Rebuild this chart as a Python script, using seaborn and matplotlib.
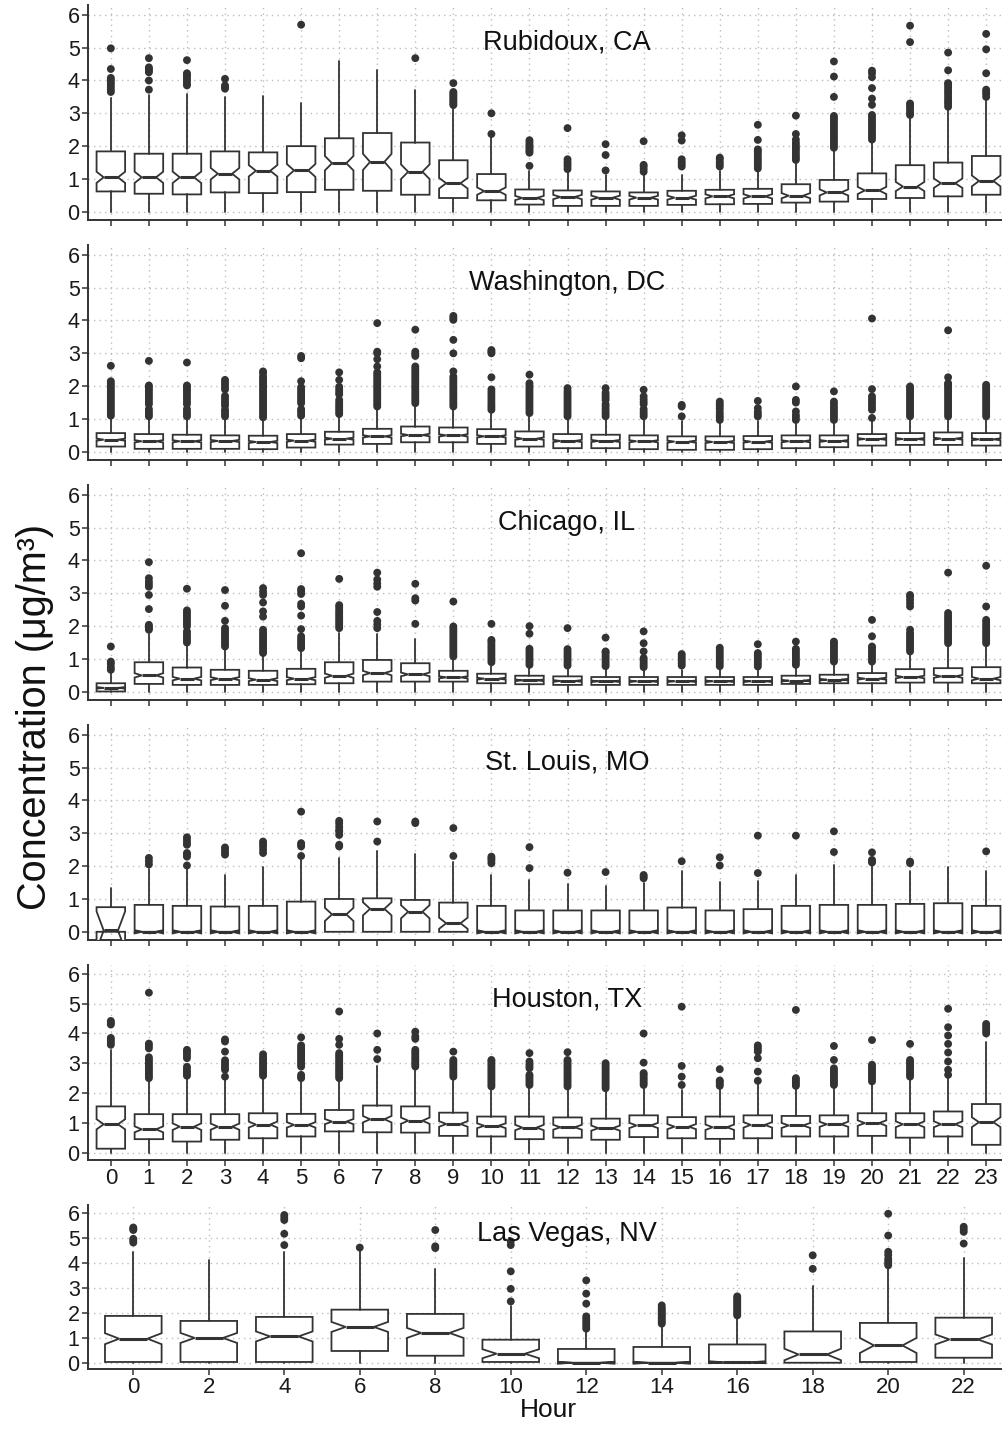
import matplotlib
matplotlib.use("Agg")
import matplotlib.pyplot as plt
import matplotlib.transforms as mtransforms
import numpy as np
import pandas as pd
import seaborn as sns

# ---------------------------------------------------------------- data
HOURS = list(range(24))
LV_HOURS = list(range(0, 24, 2))
CITIES = ["Rubidoux, CA", "Washington, DC", "Chicago, IL",
          "St. Louis, MO", "Houston, TX", "Las Vegas, NV"]
LOWER_WHISKER = 0.0

# Rubidoux, CA
rub_med = [1.05, 1.05, 1.05, 1.16, 1.25, 1.26, 1.48, 1.52, 1.22, 0.87, 0.63, 0.42,
           0.45, 0.43, 0.43, 0.43, 0.47, 0.47, 0.49, 0.59, 0.65, 0.77, 0.87, 0.94]
rub_q1 = [0.62, 0.55, 0.53, 0.59, 0.57, 0.60, 0.67, 0.64, 0.52, 0.42, 0.35, 0.22,
          0.18, 0.18, 0.18, 0.21, 0.23, 0.24, 0.28, 0.31, 0.39, 0.42, 0.47, 0.52]
rub_q3 = [1.84, 1.77, 1.77, 1.84, 1.81, 2.00, 2.24, 2.40, 2.11, 1.57, 1.15, 0.68,
          0.65, 0.62, 0.59, 0.64, 0.67, 0.70, 0.84, 0.97, 1.17, 1.42, 1.50, 1.70]
rub_hi = [3.46, 3.55, 3.60, 3.50, 3.53, 3.30, 4.60, 4.33, 3.70, 3.20, 2.30, 1.25,
          1.25, 1.13, 1.18, 1.13, 1.23, 1.28, 1.53, 1.90, 2.15, 2.90, 3.15, 3.40]
rub_out = [
    [3.65, 3.72, 3.8, 3.88, 3.95, 4.02, 4.08, 4.35, 4.98],
    [3.72, 4.0, 4.25, 4.3, 4.35, 4.4, 4.68],
    [3.85, 3.9, 3.98, 4.05, 4.12, 4.18, 4.22, 4.62],
    [3.75, 3.8, 3.85, 4.05],
    [],
    [5.7],
    [],
    [],
    [4.68],
    [3.25, 3.3, 3.35, 3.4, 3.45, 3.5, 3.55, 3.6, 3.65, 3.92],
    [2.37, 3.0],
    [1.4, 1.8, 1.85, 1.9, 1.95, 2.0, 2.05, 2.12, 2.18],
    [1.3, 1.38, 1.45, 1.52, 1.6, 2.55],
    [1.26, 1.73, 2.06],
    [1.22, 1.3, 1.38, 1.43, 2.15],
    [1.38, 1.45, 1.52, 1.6, 2.17, 2.33],
    [1.38, 1.45, 1.52, 1.6, 1.65],
    [1.32, 1.4, 1.48, 1.55, 1.62, 1.7, 1.78, 1.85, 1.9, 2.19, 2.65],
    [1.58, 1.65, 1.72, 1.8, 1.88, 1.95, 2.02, 2.1, 2.2, 2.37, 2.93],
    [1.95, 2.02, 2.1, 2.18, 2.25, 2.32, 2.4, 2.48, 2.55, 2.62, 2.7, 2.78, 2.85, 2.92,
     3.5, 4.12, 4.58],
    [2.2, 2.28, 2.35, 2.42, 2.5, 2.58, 2.65, 2.72, 2.8, 2.88, 2.95, 3.26, 3.45, 3.77,
     4.1, 4.22, 4.3],
    [2.95, 3.02, 3.1, 3.18, 3.25, 3.3, 5.17, 5.67],
    [3.2, 3.28, 3.35, 3.42, 3.5, 3.58, 3.65, 3.72, 3.8, 3.88, 3.92, 4.31, 4.85],
    [3.5, 3.58, 3.65, 3.72, 4.22, 4.95, 5.42],
]
rub_notch = 0.14

# Washington, DC
was_med = [0.37, 0.32, 0.32, 0.33, 0.30, 0.34, 0.40, 0.47, 0.51, 0.50, 0.47, 0.40,
           0.33, 0.33, 0.32, 0.31, 0.30, 0.31, 0.32, 0.33, 0.39, 0.39, 0.40, 0.38]
was_q1 = [0.16, 0.09, 0.09, 0.09, 0.08, 0.13, 0.22, 0.24, 0.29, 0.29, 0.24, 0.16,
          0.11, 0.11, 0.08, 0.06, 0.06, 0.08, 0.11, 0.14, 0.19, 0.21, 0.21, 0.19]
was_q3 = [0.57, 0.54, 0.52, 0.50, 0.49, 0.54, 0.61, 0.70, 0.77, 0.74, 0.69, 0.62,
          0.54, 0.52, 0.50, 0.47, 0.47, 0.48, 0.50, 0.50, 0.54, 0.57, 0.59, 0.57]
was_hi = [1.05, 1.00, 1.00, 1.00, 1.00, 1.05, 1.10, 1.30, 1.40, 1.35, 1.25, 1.15,
          1.05, 1.00, 1.00, 0.95, 0.95, 0.95, 1.00, 1.00, 1.00, 1.00, 1.05, 1.00]
was_out = [
    [1.1, 1.17, 1.24, 1.31, 1.38, 1.45, 1.52, 1.59, 1.66, 1.73, 1.8, 1.87, 1.94, 2.01,
     2.08, 2.15, 2.62],
    [1.08, 1.15, 1.22, 1.3, 1.45, 1.52, 1.6, 1.68, 1.75, 1.83, 1.9, 1.97, 2.02, 2.77],
    [1.08, 1.15, 1.22, 1.3, 1.45, 1.52, 1.6, 1.68, 1.75, 1.83, 1.9, 1.97, 2.02, 2.72],
    [1.08, 1.15, 1.22, 1.28, 1.4, 1.47, 1.54, 1.62, 1.7, 1.9, 1.97, 2.05, 2.12, 2.19],
    [1.05, 1.12, 1.19, 1.26, 1.33, 1.4, 1.47, 1.54, 1.61, 1.68, 1.75, 1.82, 1.89,
     1.96, 2.03, 2.1, 2.17, 2.24, 2.3, 2.4, 2.45],
    [1.1, 1.17, 1.24, 1.3, 1.48, 1.55, 1.62, 1.69, 1.76, 1.83, 1.9, 1.97, 2.15, 2.85,
     2.92],
    [1.15, 1.22, 1.29, 1.36, 1.43, 1.5, 1.58, 1.75, 1.82, 1.9, 1.98, 2.19, 2.42],
    [1.38, 1.45, 1.52, 1.59, 1.66, 1.73, 1.8, 1.87, 1.94, 2.01, 2.08, 2.15, 2.22,
     2.29, 2.36, 2.42, 2.6, 2.82, 3.0, 3.05, 3.92],
    [1.48, 1.55, 1.62, 1.69, 1.76, 1.83, 1.9, 1.97, 2.04, 2.11, 2.18, 2.25, 2.32,
     2.39, 2.46, 2.53, 2.6, 2.92, 2.98, 3.05, 3.72],
    [1.38, 1.45, 1.52, 1.59, 1.66, 1.73, 1.8, 1.87, 1.94, 2.01, 2.08, 2.15, 2.22,
     2.29, 2.45, 3.0, 3.41, 4.02, 4.08, 4.14],
    [1.28, 1.35, 1.42, 1.5, 1.58, 1.66, 1.74, 1.82, 1.9, 2.27, 3.0, 3.05, 3.1],
    [1.18, 1.25, 1.32, 1.39, 1.46, 1.53, 1.6, 1.67, 1.74, 1.81, 1.88, 1.95, 2.02,
     2.09, 2.35],
    [1.08, 1.15, 1.22, 1.29, 1.36, 1.43, 1.5, 1.57, 1.64, 1.71, 1.78, 1.85, 1.94],
    [1.08, 1.15, 1.22, 1.3, 1.38, 1.45, 1.58, 1.65, 1.72, 1.8, 1.94],
    [1.08, 1.15, 1.22, 1.3, 1.45, 1.52, 1.6, 1.69, 1.89],
    [1.08, 1.38, 1.43],
    [0.97, 1.05, 1.12, 1.2, 1.3, 1.38, 1.45, 1.53],
    [1.08, 1.15, 1.22, 1.33, 1.55],
    [0.97, 1.05, 1.12, 1.23, 1.5, 1.58, 1.99],
    [0.97, 1.05, 1.12, 1.2, 1.28, 1.36, 1.45, 1.53, 1.84],
    [1.03, 1.28, 1.36, 1.45, 1.53, 1.61, 1.69, 1.91, 4.06],
    [1.08, 1.15, 1.22, 1.29, 1.36, 1.43, 1.5, 1.57, 1.64, 1.71, 1.78, 1.85, 1.92,
     1.99],
    [1.08, 1.15, 1.22, 1.29, 1.36, 1.43, 1.5, 1.57, 1.64, 1.71, 1.78, 1.85, 1.92,
     1.99, 2.05, 2.09, 2.27, 3.7],
    [1.08, 1.15, 1.22, 1.29, 1.36, 1.43, 1.5, 1.57, 1.64, 1.71, 1.78, 1.85, 1.92,
     1.98, 2.04],
]
was_notch = 0.08

# Chicago, IL
chi_med = [0.12, 0.50, 0.40, 0.40, 0.37, 0.40, 0.49, 0.57, 0.53, 0.44, 0.40, 0.35,
           0.33, 0.32, 0.32, 0.32, 0.32, 0.32, 0.34, 0.37, 0.40, 0.45, 0.47, 0.40]
chi_q1 = [0.01, 0.24, 0.21, 0.21, 0.21, 0.23, 0.26, 0.31, 0.31, 0.31, 0.26, 0.23,
          0.21, 0.21, 0.21, 0.21, 0.21, 0.21, 0.24, 0.26, 0.26, 0.28, 0.28, 0.26]
chi_q3 = [0.26, 0.90, 0.74, 0.67, 0.64, 0.70, 0.90, 0.97, 0.87, 0.64, 0.55, 0.49,
          0.47, 0.45, 0.45, 0.45, 0.45, 0.45, 0.49, 0.52, 0.57, 0.69, 0.72, 0.75]
chi_hi = [0.60, 1.75, 1.45, 1.35, 1.20, 1.35, 1.80, 1.75, 1.62, 1.05, 0.88, 0.72,
          0.72, 0.70, 0.65, 0.65, 0.70, 0.70, 0.75, 0.85, 0.90, 1.20, 1.40, 1.45]
chi_out = [
    [0.67, 0.75, 0.85, 0.92, 1.38],
    [1.89, 1.94, 1.99, 2.04, 2.52, 2.95, 3.2, 3.28, 3.36, 3.46, 3.95],
    [1.5, 1.57, 1.64, 1.71, 1.78, 1.84, 1.99, 2.06, 2.13, 2.2, 2.27, 2.34, 2.41, 2.48,
     3.14],
    [1.38, 1.45, 1.52, 1.59, 1.66, 1.73, 1.8, 1.87, 1.94, 2.16, 2.62, 3.1],
    [1.18, 1.25, 1.32, 1.39, 1.46, 1.53, 1.6, 1.67, 1.74, 1.81, 1.89, 2.29, 2.45,
     2.72, 2.95, 3.05, 3.16],
    [1.33, 1.4, 1.47, 1.54, 1.61, 1.69, 1.91, 2.32, 2.6, 2.68, 2.98, 3.06, 3.13, 4.22],
    [1.94, 2.01, 2.08, 2.15, 2.22, 2.29, 2.36, 2.43, 2.5, 2.58, 2.64, 3.44],
    [1.94, 2.05, 2.16, 2.43, 3.2, 3.3, 3.42, 3.63],
    [2.07, 2.78, 2.85, 3.29],
    [1.08, 1.15, 1.22, 1.29, 1.36, 1.43, 1.5, 1.57, 1.64, 1.71, 1.78, 1.85, 1.92,
     1.99, 2.75],
    [0.9, 0.97, 1.04, 1.11, 1.18, 1.25, 1.32, 1.39, 1.46, 1.53, 1.58, 2.07],
    [0.82, 0.89, 0.96, 1.03, 1.1, 1.17, 1.24, 1.31, 1.77, 2.0],
    [0.8, 0.87, 0.94, 1.01, 1.08, 1.15, 1.22, 1.3, 1.94],
    [0.78, 0.85, 0.92, 0.99, 1.06, 1.13, 1.2, 1.23, 1.65],
    [0.75, 0.82, 0.89, 0.96, 1.03, 1.23, 1.48, 1.84],
    [0.8, 0.87, 0.94, 1.01, 1.08, 1.15],
    [0.78, 0.86, 0.94, 1.02, 1.1, 1.18, 1.26, 1.34],
    [0.77, 0.84, 0.91, 0.98, 1.05, 1.12, 1.18, 1.45],
    [0.82, 0.89, 0.96, 1.03, 1.1, 1.17, 1.24, 1.31, 1.53],
    [0.92, 0.99, 1.06, 1.13, 1.2, 1.27, 1.34, 1.41, 1.48, 1.53],
    [0.92, 0.99, 1.06, 1.13, 1.2, 1.27, 1.34, 1.38, 1.69, 2.19],
    [1.23, 1.3, 1.37, 1.44, 1.51, 1.58, 1.65, 1.72, 1.79, 1.89, 2.6, 2.7, 2.8, 2.9,
     2.95],
    [1.48, 1.55, 1.62, 1.69, 1.76, 1.83, 1.9, 1.97, 2.04, 2.11, 2.18, 2.25, 2.32,
     2.4, 3.63],
    [1.48, 1.55, 1.62, 1.69, 1.76, 1.83, 1.9, 1.97, 2.04, 2.12, 2.19, 2.6, 3.84],
]
chi_notch = 0.10

# St. Louis, MO
stl_med = [0.04, 0.0, 0.0, 0.0, 0.0, 0.0, 0.53, 0.70, 0.61, 0.26, 0.0, 0.0,
           0.0, 0.0, 0.0, 0.0, 0.0, 0.0, 0.0, 0.0, 0.0, 0.0, 0.0, 0.0]
stl_q1 = [0.0] * 24
stl_q3 = [0.75, 0.82, 0.79, 0.77, 0.79, 0.92, 1.00, 1.02, 0.97, 0.89, 0.79, 0.65,
          0.65, 0.65, 0.65, 0.74, 0.65, 0.69, 0.79, 0.82, 0.82, 0.85, 0.87, 0.79]
stl_hi = [1.33, 1.92, 1.98, 1.74, 1.97, 2.19, 2.24, 2.47, 2.37, 2.14, 1.72, 1.58,
          1.46, 1.41, 1.48, 1.84, 1.51, 1.55, 1.73, 2.04, 2.02, 1.84, 1.98, 1.85]
stl_out = [
    [],
    [2.05, 2.15, 2.25],
    [2.02, 2.29, 2.35, 2.4, 2.65, 2.72, 2.8, 2.88],
    [2.35, 2.42, 2.5, 2.57],
    [2.4, 2.5, 2.6, 2.68, 2.75],
    [2.31, 2.6, 2.65, 2.7, 3.66],
    [2.6, 2.65, 2.95, 3.05, 3.1, 3.2, 3.3, 3.38],
    [2.75, 3.36],
    [3.31, 3.36],
    [2.31, 3.16],
    [2.09, 2.17, 2.23, 2.29],
    [1.94, 2.58],
    [1.8],
    [1.82],
    [1.63, 1.68, 1.73],
    [2.15],
    [2.02, 2.27],
    [1.79, 2.93],
    [2.93],
    [2.43, 3.06],
    [2.11, 2.15, 2.19, 2.42],
    [2.09, 2.14],
    [],
    [2.45],
]
stl_notch = [0.58, 0.05, 0.05, 0.05, 0.05, 0.05, 0.20, 0.20, 0.20, 0.17, 0.05, 0.05,
             0.05, 0.05, 0.05, 0.05, 0.05, 0.05, 0.05, 0.05, 0.05, 0.05, 0.05, 0.05]

# Houston, TX
hou_med = [0.95, 0.78, 0.87, 0.87, 0.94, 0.93, 1.04, 1.12, 1.07, 0.96, 0.90, 0.84,
           0.85, 0.82, 0.91, 0.87, 0.85, 0.93, 0.91, 0.95, 0.99, 0.95, 0.95, 1.02]
hou_q1 = [0.13, 0.45, 0.37, 0.43, 0.48, 0.54, 0.71, 0.68, 0.67, 0.56, 0.54, 0.45,
          0.50, 0.43, 0.52, 0.48, 0.46, 0.48, 0.54, 0.54, 0.56, 0.50, 0.54, 0.26]
hou_q3 = [1.55, 1.29, 1.29, 1.29, 1.32, 1.30, 1.43, 1.58, 1.55, 1.34, 1.21, 1.21,
          1.18, 1.14, 1.25, 1.19, 1.21, 1.25, 1.23, 1.25, 1.32, 1.32, 1.38, 1.63]
hou_hi = [3.45, 2.50, 2.50, 2.50, 2.55, 2.45, 2.45, 2.90, 2.85, 2.45, 2.20, 2.25,
          2.20, 2.15, 2.25, 2.10, 2.20, 2.35, 2.20, 2.25, 2.35, 2.45, 2.50, 3.70]
hou_out = [
    [3.62, 3.7, 3.78, 3.85, 4.3, 4.36, 4.42],
    [2.5, 2.57, 2.64, 2.71, 2.78, 2.85, 2.92, 2.99, 3.06, 3.13, 3.2, 3.5, 3.58, 3.66,
     5.37],
    [2.58, 2.65, 2.72, 2.8, 2.88, 3.17, 3.25, 3.33, 3.4, 3.45],
    [2.55, 2.78, 2.86, 2.94, 3.02, 3.1, 3.39, 3.73, 3.8],
    [2.58, 2.65, 2.72, 2.79, 2.86, 2.93, 3.0, 3.07, 3.14, 3.21, 3.3],
    [2.5, 2.55, 2.61, 2.89, 2.96, 3.03, 3.1, 3.17, 3.24, 3.31, 3.38, 3.45, 3.52,
     3.6, 3.87],
    [2.5, 2.57, 2.64, 2.71, 2.78, 2.85, 2.92, 2.99, 3.06, 3.13, 3.2, 3.27, 3.34,
     3.62, 3.82, 4.74],
    [3.14, 3.45, 4.0],
    [2.89, 2.96, 3.03, 3.1, 3.17, 3.24, 3.31, 3.38, 3.45, 3.82, 3.9, 4.06],
    [2.55, 2.62, 2.69, 2.76, 2.83, 2.9, 2.97, 3.04, 3.11, 3.39],
    [2.22, 2.29, 2.36, 2.43, 2.5, 2.57, 2.64, 2.71, 2.78, 2.85, 2.92, 2.99, 3.06,
     3.11],
    [2.27, 2.34, 2.41, 2.48, 2.55, 2.61, 2.83, 2.9, 2.97, 3.06, 3.34],
    [2.22, 2.29, 2.36, 2.43, 2.5, 2.57, 2.64, 2.71, 2.78, 2.85, 2.92, 2.99, 3.06,
     3.11, 3.37],
    [2.16, 2.23, 2.3, 2.37, 2.44, 2.51, 2.58, 2.65, 2.72, 2.79, 2.86, 2.93, 3.0],
    [2.27, 2.34, 2.41, 2.48, 2.55, 2.62, 2.67, 3.02, 4.0],
    [2.27, 2.55, 2.91, 4.9],
    [2.24, 2.31, 2.38, 2.42, 2.8],
    [2.41, 2.72, 3.17, 3.39, 3.46, 3.53, 3.6],
    [2.24, 2.31, 2.38, 2.45, 2.5, 4.79],
    [2.27, 2.34, 2.41, 2.48, 2.55, 2.62, 2.69, 2.76, 2.83, 3.11, 3.58],
    [2.39, 2.46, 2.53, 2.6, 2.67, 2.74, 2.81, 2.88, 2.95, 3.78],
    [2.55, 2.62, 2.69, 2.76, 2.83, 2.9, 2.97, 3.04, 3.11, 3.65],
    [2.61, 2.78, 3.06, 3.36, 3.65, 3.93, 4.21, 4.83],
    [4.0, 4.08, 4.16, 4.24, 4.32],
]
hou_notch = 0.12

# Las Vegas, NV (even hours only)
lv_med = [0.96, 0.99, 1.05, 1.43, 1.19, 0.36, 0.00, 0.00, 0.02, 0.33, 0.69, 0.93]
lv_q1 = [0.03, 0.03, 0.03, 0.47, 0.28, 0.03, 0.00, 0.00, 0.00, 0.00, 0.03, 0.20]
lv_q3 = [1.87, 1.67, 1.83, 2.12, 1.95, 0.92, 0.55, 0.63, 0.73, 1.25, 1.59, 1.80]
lv_hi = [4.43, 4.10, 4.43, 4.55, 3.75, 2.25, 1.33, 1.50, 1.85, 3.05, 3.85, 4.19]
lv_out = [
    [4.8, 4.88, 4.95, 5.3, 5.35, 5.4],
    [],
    [4.7, 5.15, 5.7, 5.8, 5.9],
    [4.6],
    [4.58, 4.65, 5.3],
    [2.45, 2.95, 3.65, 4.7, 4.85],
    [1.36, 1.45, 1.55, 1.65, 1.75, 1.85, 2.36, 2.76, 3.29],
    [1.56, 1.63, 1.7, 1.77, 1.84, 1.91, 1.98, 2.05, 2.12, 2.19, 2.29],
    [1.89, 1.96, 2.03, 2.1, 2.17, 2.24, 2.31, 2.38, 2.45, 2.52, 2.59, 2.65],
    [3.75, 4.29],
    [3.89, 3.97, 4.05, 4.15, 4.3, 4.43, 5.08, 5.95],
    [4.76, 5.23, 5.33, 5.43],
]
lv_notch = [0.22, 0.20, 0.20, 0.20, 0.20, 0.18, 0.04, 0.04, 0.04, 0.23, 0.30, 0.20]

PANELS = [
    (rub_med, rub_q1, rub_q3, rub_hi, rub_out, rub_notch, HOURS),
    (was_med, was_q1, was_q3, was_hi, was_out, was_notch, HOURS),
    (chi_med, chi_q1, chi_q3, chi_hi, chi_out, chi_notch, HOURS),
    (stl_med, stl_q1, stl_q3, stl_hi, stl_out, stl_notch, HOURS),
    (hou_med, hou_q1, hou_q3, hou_hi, hou_out, hou_notch, HOURS),
    (lv_med, lv_q1, lv_q3, lv_hi, lv_out, lv_notch, LV_HOURS),
]

# ---------------------------------------------------------------- style
sns.set_theme(style="ticks")
plt.rcParams["font.family"] = ["Liberation Sans", "DejaVu Sans"]

W, H = 1002, 1431
fig = plt.figure(figsize=(W / 100, H / 100), dpi=100)

# panel pixel extents (top, bottom)
extents = [(5, 220), (245, 460), (485, 700), (725, 940), (965, 1160), (1205, 1369)]
LEFT_PX, RIGHT_PX = 88, 1009
INK = "#333333"

for i, (city, panel, (top, bot)) in enumerate(zip(CITIES, PANELS, extents)):
    med, q1, q3, hi, outl, notch, hours = panel
    ax = fig.add_axes([LEFT_PX / W, 1 - bot / H, (RIGHT_PX - LEFT_PX) / W, (bot - top) / H])
    stats = []
    for j in range(len(hours)):
        half = notch[j] if isinstance(notch, list) else notch * (q3[j] - q1[j])
        stats.append(dict(med=med[j], q1=q1[j], q3=q3[j], whislo=LOWER_WHISKER,
                          whishi=hi[j], cilo=med[j] - half, cihi=med[j] + half,
                          fliers=[]))
    pos = np.arange(len(hours))
    ax.bxp(stats, positions=pos, widths=0.75, shownotches=True, showfliers=False,
           showcaps=False, patch_artist=True,
           boxprops=dict(facecolor="white", edgecolor=INK, linewidth=1.3),
           medianprops=dict(color=INK, linewidth=2.2),
           whiskerprops=dict(color=INK, linewidth=1.3),
           zorder=3)
    # outliers
    df = pd.DataFrame({"pos": [p for p, vals in zip(pos, outl) for _ in vals],
                       "value": [v for vals in outl for v in vals]})
    sns.scatterplot(data=df, x="pos", y="value", ax=ax, s=32, color=INK,
                    edgecolor="none", linewidth=0, zorder=4, legend=False)

    ax.set_xlim(-0.6, len(hours) - 0.4)
    ax.set_ylim(-0.25, 6.3)
    ax.set_yticks(range(0, 7))
    ax.set_xticks(pos)
    if i >= 4:
        ax.set_xticklabels([str(h) for h in hours], fontsize=16, color="#1a1a1a")
    else:
        ax.set_xticklabels([])
    ax.tick_params(axis="y", labelsize=15.5, labelcolor="#1a1a1a")
    ax.tick_params(axis="both", direction="out", length=4, width=1.1, color=INK, pad=2)
    ax.grid(True, which="major", linestyle=(0, (1, 3)), color="#bdbdbd", linewidth=1.0)
    ax.set_axisbelow(True)
    sns.despine(ax=ax)
    for side in ("left", "bottom"):
        ax.spines[side].set_color(INK)
        ax.spines[side].set_linewidth(1.4)
    ax.set_xlabel("")
    ax.set_ylabel("")
    trans = mtransforms.blended_transform_factory(ax.transAxes, ax.transData)
    ax.text(0.52, 5.15, city, transform=trans, ha="center", va="center",
            fontsize=19.5, color="#111111", zorder=5)
    if i == 5:
        ax.set_xlabel("Hour", fontsize=19, color="#111111", labelpad=0)

fig.text(0.035, 0.499, "Concentration (μg/m³)", rotation=90, ha="center",
         va="center", fontsize=28.5, color="#111111")

fig.savefig("out.png", dpi=100)
